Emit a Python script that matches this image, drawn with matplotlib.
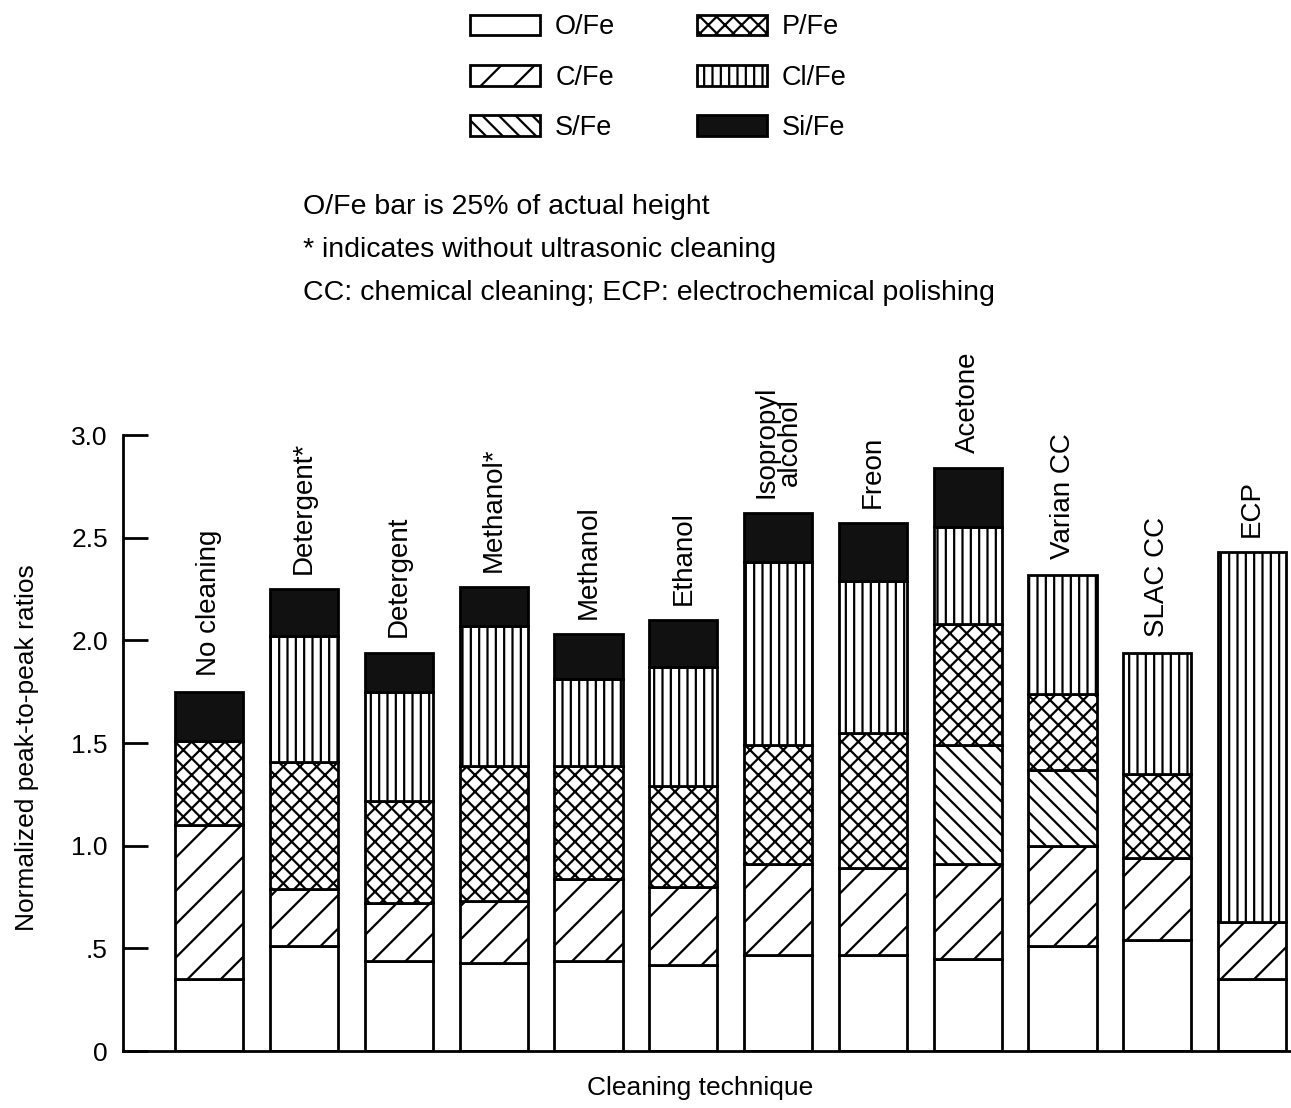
import numpy as np
import matplotlib
matplotlib.use('Agg')
import matplotlib.pyplot as plt
from matplotlib.patches import Patch

plt.rcParams['font.family'] = ['Liberation Sans', 'DejaVu Sans']
plt.rcParams['hatch.linewidth'] = 1.6

techniques = ['No cleaning', 'Detergent*', 'Detergent', 'Methanol*', 'Methanol', 'Ethanol',
              'Isopropyl\nalcohol', 'Freon', 'Acetone', 'Varian CC', 'SLAC CC', 'ECP']

# segment heights (normalized peak-to-peak ratios), bottom to top
o_fe = [0.35, 0.51, 0.44, 0.43, 0.44, 0.42, 0.47, 0.47, 0.45, 0.51, 0.54, 0.35]
c_fe = [0.75, 0.28, 0.28, 0.30, 0.40, 0.38, 0.44, 0.42, 0.46, 0.49, 0.40, 0.28]
s_fe = [0.00, 0.00, 0.00, 0.00, 0.00, 0.00, 0.00, 0.00, 0.58, 0.37, 0.00, 0.00]
p_fe = [0.41, 0.62, 0.50, 0.66, 0.55, 0.49, 0.58, 0.66, 0.59, 0.37, 0.41, 0.00]
cl_fe = [0.00, 0.61, 0.53, 0.68, 0.42, 0.58, 0.89, 0.74, 0.47, 0.58, 0.59, 1.80]
si_fe = [0.24, 0.23, 0.19, 0.19, 0.22, 0.23, 0.24, 0.28, 0.29, 0.00, 0.00, 0.00]

series = [
    ('O/Fe', o_fe, 'white', ''),
    ('C/Fe', c_fe, 'white', '/'),
    ('S/Fe', s_fe, 'white', '\\\\'),
    ('P/Fe', p_fe, 'white', 'xx'),
    ('Cl/Fe', cl_fe, 'white', '||'),
    ('Si/Fe', si_fe, '#111111', ''),
]

fig = plt.figure(figsize=(12.91, 11.08), dpi=100)
ax = fig.add_axes([0.0953, 0.0514, 0.9047, 0.556])

x = np.arange(len(techniques))
width = 0.72
bottom = np.zeros(len(techniques))
for name, vals, fc, hatch in series:
    vals = np.array(vals)
    mask = vals > 0
    ax.bar(x[mask], vals[mask], width=width, bottom=bottom[mask], color=fc,
           edgecolor='black', hatch=hatch, linewidth=2, zorder=2)
    bottom += vals

# rotated technique names above each bar
for xi, top, lab in zip(x, bottom, techniques):
    ax.annotate(lab, (xi, top), xytext=(0, 11), textcoords='offset points',
                rotation=90, ha='center', va='bottom', fontsize=20,
                multialignment='center', linespacing=0.9)

ax.set_xlim(-0.91, 11.41)
ax.set_ylim(0, 3.0)
ax.set_xticks([])
ax.set_yticks([0, 0.5, 1.0, 1.5, 2.0, 2.5, 3.0])
ax.set_yticklabels(['0', '.5', '1.0', '1.5', '2.0', '2.5', '3.0'], fontsize=19)
ax.tick_params(axis='y', direction='in', length=18, width=2, pad=11)
ax.spines['top'].set_visible(False)
ax.spines['right'].set_visible(False)
ax.spines['left'].set_linewidth(2)
ax.spines['bottom'].set_linewidth(2)

fig.text(0.021, 0.325, 'Normalized peak-to-peak ratios', rotation=90,
         ha='center', va='center', fontsize=19)
fig.text(0.542, 0.018, 'Cleaning technique', ha='center', va='center', fontsize=19)

notes = ['O/Fe bar is 25% of actual height',
         '* indicates without ultrasonic cleaning',
         'CC: chemical cleaning; ECP: electrochemical polishing']
for i, note in enumerate(notes):
    fig.text(0.2347, 0.813 - i * 0.0385, note, ha='left', va='center', fontsize=20.5)

handles = [Patch(facecolor=fc, edgecolor='black', hatch=h, linewidth=2, label=n)
           for n, _, fc, h in series]
fig.legend(handles=handles, ncol=2, loc='upper left', bbox_to_anchor=(0.364, 0.987),
           frameon=False, fontsize=19.5, handlelength=2.6, handleheight=0.8,
           handletextpad=0.55, columnspacing=3.0, labelspacing=0.9, borderpad=0,
           borderaxespad=0)

fig.savefig('out.png', dpi=100, facecolor='white')
